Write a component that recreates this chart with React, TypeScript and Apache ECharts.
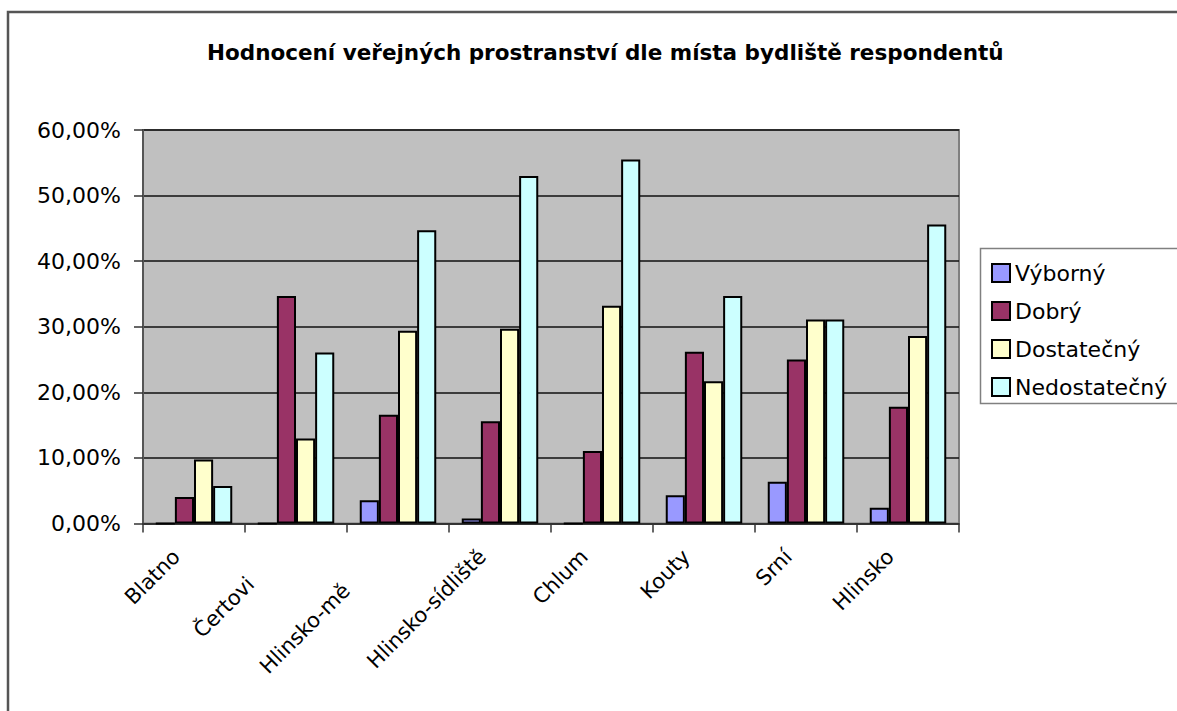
import React, { useEffect, useRef } from "react";
import * as echarts from "echarts";

const titleText = "Hodnocení veřejných prostranství dle místa bydliště respondentů";
const categories = ["Blatno", "Čertovi", "Hlinsko-mě", "Hlinsko-sídliště", "Chlum", "Kouty", "Srní", "Hlinsko"];
const seriesNames = ["Výborný", "Dobrý", "Dostatečný", "Nedostatečný"];
const vyborny = [0, 0, 3.55, 0.76, 0, 4.3, 6.35, 2.4];
const dobry = [4.05, 34.7, 16.6, 15.6, 11.07, 26.2, 25.0, 17.8];
const dostatecny = [9.75, 12.95, 29.4, 29.7, 33.2, 21.7, 31.1, 28.6];
const nedostatecny = [5.73, 26.06, 44.7, 53.0, 55.5, 34.7, 31.1, 45.6];
const colors = ["#9999FF", "#993366", "#FFFFCC", "#CCFFFF"];
const yTicks = [0, 10, 20, 30, 40, 50, 60];

const FONT = "'DejaVu Sans', 'Liberation Sans', Arial, sans-serif";

export default function App() {
  const ref = useRef<HTMLDivElement>(null);
  useEffect(() => {
    if (!ref.current) return;
    const chart = echarts.init(ref.current, undefined, { renderer: "svg" });
    const values = [vyborny, dobry, dostatecny, nedostatecny];
    const extraPad: Record<string, number> = { "Čertovi": 39, "Hlinsko-mě": 48 };
    chart.setOption({
      animation: false,
      backgroundColor: "#ffffff",
      textStyle: { fontFamily: FONT },
      title: {
        text: titleText,
        left: 202,
        top: 36,
        textStyle: { fontFamily: FONT, fontSize: 21.5, fontWeight: "bold", color: "#000" },
      },
      graphic: [
        {
          type: "rect",
          shape: { x: 8, y: 12, width: 1250, height: 800 },
          style: { fill: "none", stroke: "#555", lineWidth: 2.5 },
          silent: true,
          z: -1,
        },
        {
          type: "rect",
          shape: { x: 980.5, y: 248.5, width: 260, height: 155 },
          style: { fill: "#fff", stroke: "#808080", lineWidth: 1.5 },
          silent: true,
          z: 0,
        },
      ],
      legend: {
        orient: "vertical",
        left: 986,
        top: 256,
        itemWidth: 18,
        itemHeight: 18,
        itemGap: 14,
        icon: "rect",
        data: seriesNames,
        textStyle: { fontFamily: FONT, fontSize: 22, lineHeight: 24, color: "#000" },
        itemStyle: { borderColor: "#000", borderWidth: 2 },
        z: 5,
      },
      grid: {
        left: 143,
        right: 218,
        top: 130,
        bottom: 187.5,
        show: true,
        backgroundColor: "#C0C0C0",
        borderColor: "#808080",
        borderWidth: 2,
      },
      xAxis: {
        type: "category",
        data: categories.map((c) => ({
          value: c,
          textStyle: { padding: [0, 25 + (extraPad[c] || 0), 0, 0] },
        })),
        axisLine: { show: true, lineStyle: { color: "#333", width: 1.5 } },
        axisTick: { show: true, length: 9, lineStyle: { color: "#333", width: 1.5 } },
        axisLabel: {
          rotate: 45,
          margin: 12,
          interval: 0,
          fontFamily: FONT,
          fontSize: 21,
          color: "#000",
        },
      },
      yAxis: {
        type: "value",
        min: 0,
        max: 60,
        interval: 10,
        axisLine: { show: true, lineStyle: { color: "#555", width: 2 } },
        axisTick: { show: true, length: 9, lineStyle: { color: "#333", width: 1.5 } },
        axisLabel: {
          margin: 22,
          fontFamily: FONT,
          fontSize: 22,
          color: "#000",
          formatter: (v: number) => (yTicks.includes(v) ? v.toFixed(2).replace(".", ",") + "%" : ""),
        },
        splitLine: { show: true, lineStyle: { color: "#111", width: 1.5 } },
      },
      series: seriesNames.map((name, i) => ({
        name,
        type: "bar",
        data: values[i],
        barGap: "0%",
        barCategoryGap: "25%",
        itemStyle: { color: colors[i], borderColor: "#000", borderWidth: 2 },
      })),
    });
    return () => chart.dispose();
  }, []);
  return (
    <div
      ref={ref}
      style={{ position: "fixed", left: 0, top: 0, width: 1177, height: 711 }}
    />
  );
}
